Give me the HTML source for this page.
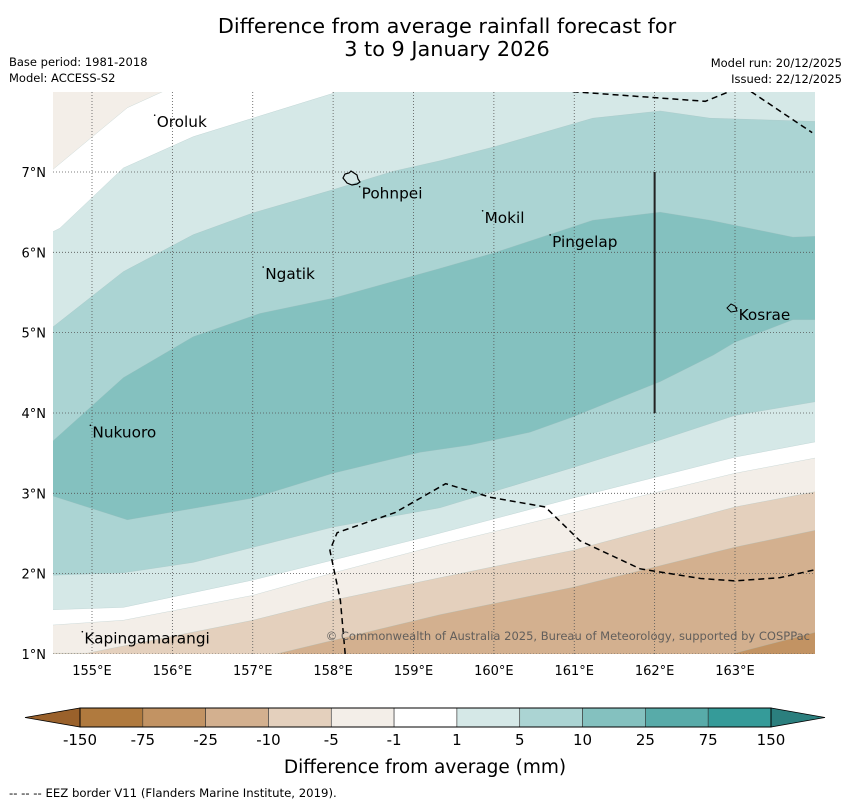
<!DOCTYPE html>
<html><head><meta charset="utf-8"><style>
body{margin:0;background:#fff;}
svg{display:block;font-family:"DejaVu Sans","Liberation Sans",sans-serif;}
</style></head><body>
<svg id="svg" width="850" height="804" viewBox="0 0 850 804">
<defs><clipPath id="mapclip"><rect x="53" y="92" width="762" height="562"/></clipPath></defs>
<text x="447" y="33" font-size="20.8" text-anchor="middle">Difference from average rainfall forecast for</text>
<text x="447" y="56" font-size="20.8" text-anchor="middle">3 to 9 January 2026</text>
<text x="9" y="66" font-size="11.5">Base period: 1981-2018</text>
<text x="9" y="82" font-size="11.5">Model: ACCESS-S2</text>
<text x="842" y="67" font-size="11.5" text-anchor="end">Model run: 20/12/2025</text>
<text x="842" y="83" font-size="11.5" text-anchor="end">Issued: 22/12/2025</text>
<g id="map" clip-path="url(#mapclip)"></g>
<g id="axes"></g>
<g id="cbar"></g>
<text x="425" y="773" font-size="18.5" text-anchor="middle">Difference from average (mm)</text>
<text x="9" y="797" font-size="11.7">--  --  -- EEZ border V11 (Flanders Marine Institute, 2019).</text>
</svg>
<script>
const NS='http://www.w3.org/2000/svg';
const lonTicks=[155,156,157,158,159,160,161,162,163];
const latTicks=[1,2,3,4,5,6,7];
const bandColors=['#b07a3e','#c29363','#d3b08f','#e4d0bd','#f3eee8','#ffffff','#d5e8e7','#abd4d3','#84c1bf','#58aba9','#359b99'];
const cbLabels=['-150','-75','-25','-10','-5','-1','1','5','10','25','75','150'];
const topColor='#f3eee8';
const B1=[[154.5,7.02],[155.44,7.80],[155.88,8.0],[155.95,8.2]];
const B2=[[154.5,6.25],[154.6,6.30],[155.39,7.05],[156.26,7.44],[157.0,7.67],[158.0,7.98],[158.1,8.2]];
const B3=[[154.5,5.06],[155.39,5.76],[156.26,6.22],[157.0,6.49],[158.0,6.78],[158.75,7.01],[159.33,7.14],[159.99,7.31],[161.23,7.67],[162.07,7.76],[162.69,7.67],[164.0,7.63]];
const B4=[[154.5,3.64],[155.39,4.44],[156.26,4.95],[157.09,5.24],[158.0,5.43],[159.33,5.80],[159.99,5.99],[161.23,6.40],[162.07,6.50],[162.69,6.40],[163.72,6.19],[164.0,6.20]];
const B5=[[154.5,2.97],[155.44,2.67],[157.0,2.94],[158.0,3.25],[159.08,3.51],[159.70,3.60],[160.45,3.76],[160.98,3.95],[161.57,4.19],[162.07,4.39],[162.73,4.72],[163.0,4.88],[163.72,5.16],[164.0,5.16]];
const B6=[[154.5,1.98],[155.39,2.01],[156.26,2.14],[158.0,2.58],[159.33,2.82],[160.98,3.32],[162.0,3.64],[163.0,3.97],[164.0,4.14]];
const B7=[[154.5,1.55],[155.39,1.58],[157.0,1.92],[158.0,2.17],[159.2,2.47],[160.98,2.94],[163.0,3.45],[164.0,3.64]];
const B8=[[154.5,1.36],[155.39,1.42],[157.0,1.73],[158.0,2.01],[159.33,2.36],[160.98,2.76],[163.0,3.25],[164.0,3.44]];
const B9=[[154.5,1.01],[154.94,1.01],[157.0,1.42],[158.0,1.67],[159.33,1.95],[160.98,2.29],[163.0,2.83],[164.0,3.02]];
const B10=[[157.0,0.9],[157.25,0.99],[159.33,1.49],[160.98,1.83],[163.0,2.33],[164.0,2.54]];
const B11=[[162.9,0.95],[163.0,1.01],[164.0,1.27]];
const boundaries=[B1,B2,B3,B4,B5,B6,B7,B8,B9,B10,B11];
const belowColor=[5,6,7,8,7,6,5,4,3,2,1];
const eezUpper=[[160.98,8.0],[162.63,7.88],[163.0,8.03]];
const eezUpper2=[[163.2,8.0],[163.96,7.49]];
const eezLower=[[158.15,1.0],[158.09,1.67],[157.96,2.29],[158.05,2.51],[158.77,2.76],[159.40,3.12],[159.96,2.95],[160.64,2.83],[161.07,2.41],[161.82,2.06],[162.57,1.94],[163.0,1.91],[163.56,1.95],[164.0,2.05]];
const places=[['Oroluk',155.78,7.62],['Pohnpei',158.33,6.73],['Mokil',159.86,6.43],['Pingelap',160.7,6.13],['Ngatik',157.13,5.73],['Kosrae',163.02,5.22],['Nukuoro',154.98,3.76],['Kapingamarangi',154.88,1.19]];
const X=lon=>92+(lon-155)*80.375;
const Y=lat=>172-(lat-7)*80.33;
function mk(tag,attrs,parent){const e=document.createElementNS(NS,tag);for(const k in attrs)e.setAttribute(k,attrs[k]);parent.appendChild(e);return e;}
const map=document.getElementById('map');
let bg=mk('rect',{x:53,y:92,width:762,height:562,fill:topColor},map);


boundaries.forEach((b,i)=>{
  const pts=b.map(p=>[X(p[0]),Y(p[1])]);
  const last=pts[pts.length-1];
  pts.push([900,last[1]],[900,720],[0,720],[0,pts[0][1]]);
  const p=mk('polygon',{points:pts.map(q=>q.join(',')).join(' '),fill:bandColors[belowColor[i]],stroke:'#9fbcbc','stroke-width':0.4,'stroke-opacity':0.6},map);
  
  
});
lonTicks.forEach(l=>{const g=mk('line',{x1:X(l),x2:X(l),y1:92,y2:654,stroke:'#555','stroke-width':0.8,'stroke-dasharray':'1,2'},map);

});
latTicks.forEach(l=>{const g=mk('line',{x1:53,x2:815,y1:Y(l),y2:Y(l),stroke:'#555','stroke-width':0.8,'stroke-dasharray':'1,2'},map);

});
function path(arr,name){const d=arr.map((p,i)=>(i?'L':'M')+X(p[0])+','+Y(p[1])).join(' ');
const e=mk('path',{d:d,fill:'none',stroke:'#000','stroke-width':1.5,'stroke-dasharray':'6,4'},map);

}
path(eezUpper,'eez-border-north');path(eezUpper2,'eez-border-northeast');path(eezLower,'eez-border-south');
let vl=mk('line',{x1:X(162),x2:X(162),y1:Y(7),y2:Y(4),stroke:'#222','stroke-width':2},map);


let pi=mk('path',{d:'M343,178 l2,-4 l4,-1 l2,-2 l3,2 l3,2 l1,4 l2,3 l-3,2 l-5,1 l-5,-2 z',fill:'none',stroke:'#000','stroke-width':1.2},map);


let ki=mk('path',{d:'M727,308 l4,-4 l4,2 l2,5 l-6,1 z',fill:'none',stroke:'#000','stroke-width':1},map);


places.forEach(p=>{const t=mk('text',{x:X(p[1])+2,y:Y(p[2])+5,'font-size':15.3,fill:'#000'},map);t.textContent=p[0];


const d=mk('circle',{cx:X(p[1]),cy:Y(p[2])-7,r:0.8,fill:'#000'},map);

});
let cp=mk('text',{x:810,y:640,'font-size':11.5,fill:'#555','text-anchor':'end','fill-opacity':0.9},map);cp.textContent='© Commonwealth of Australia 2025, Bureau of Meteorology, supported by COSPPac';


const axes=document.getElementById('axes');
lonTicks.forEach(l=>{const t=mk('text',{x:X(l),y:675,'font-size':13,'text-anchor':'middle'},axes);t.textContent=l+'°E';

});
latTicks.forEach(l=>{const t=mk('text',{x:46,y:Y(l)+5,'font-size':13,'text-anchor':'end'},axes);t.textContent=l+'°N';

});
const cb=document.getElementById('cbar');
const cx0=80,cx1=771,cy0=708,cy1=727,sw=(cx1-cx0)/11;
let la=mk('polygon',{points:`${cx0},${cy0} ${cx0},${cy1} 25,${(cy0+cy1)/2}`,fill:'#9a612b',stroke:'#000','stroke-width':0.8},cb);


let ra=mk('polygon',{points:`${cx1},${cy0} ${cx1},${cy1} 825,${(cy0+cy1)/2}`,fill:'#2b7f7e',stroke:'#000','stroke-width':0.8},cb);


bandColors.forEach((c,i)=>{const r=mk('rect',{x:cx0+i*sw,y:cy0,width:sw,height:cy1-cy0,fill:c,stroke:'#333','stroke-width':0.6},cb);

});
let fr=mk('rect',{x:cx0,y:cy0,width:cx1-cx0,height:cy1-cy0,fill:'none',stroke:'#000','stroke-width':1},cb);


cbLabels.forEach((s,i)=>{const t=mk('text',{x:cx0+i*sw,y:745,'font-size':15,'text-anchor':'middle'},cb);t.textContent=s;

});
</script>
</body></html>
